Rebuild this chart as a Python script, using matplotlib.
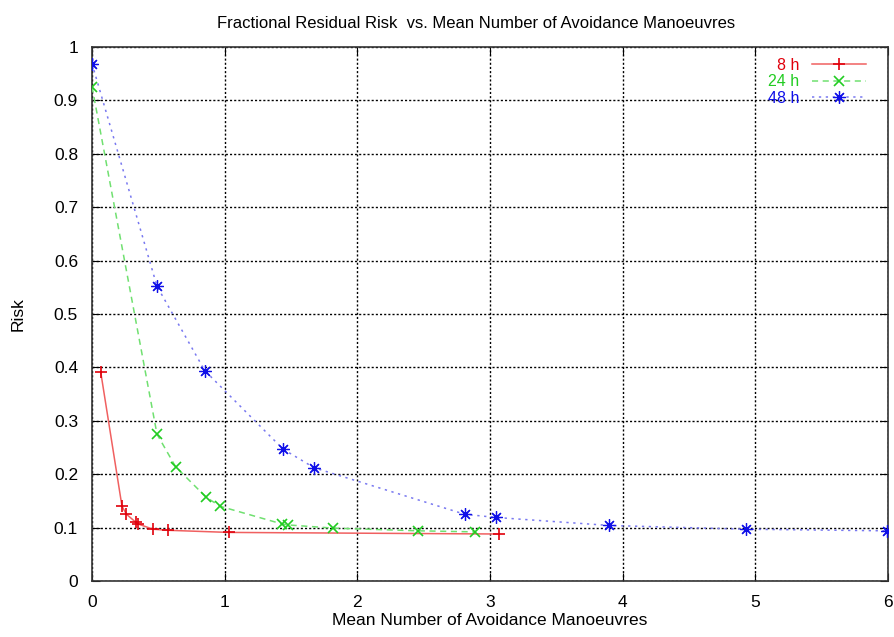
import numpy as np
import matplotlib.pyplot as plt
from matplotlib.lines import Line2D

plt.rcParams['font.family'] = ['Liberation Sans', 'DejaVu Sans']

# Residual risk vs mean number of manoeuvres, for three warning times
x_8h = [0.066, 0.226, 0.26, 0.33, 0.345, 0.46, 0.57, 1.03, 3.07]
risk_8h = [0.391, 0.140, 0.125, 0.110, 0.107, 0.097, 0.095, 0.091, 0.088]

x_24h = [0.0, 0.49, 0.63, 0.86, 0.965, 1.43, 1.48, 1.82, 2.46, 2.89]
risk_24h = [0.926, 0.275, 0.214, 0.157, 0.140, 0.107, 0.105, 0.099, 0.094, 0.092]

x_48h = [0.0, 0.49, 0.85, 1.44, 1.675, 2.81, 3.045, 3.9, 4.93, 5.99]
risk_48h = [0.969, 0.552, 0.394, 0.247, 0.212, 0.125, 0.119, 0.104, 0.097, 0.094]

labels = ['8 h', '24 h', '48 h']
line_colors = ['#f06060', '#70e070', '#7878f0']
mark_colors = ['#e0000b', '#22cc22', '#1010e8']
styles = ['-', (0, (4, 3)), (0, (1.5, 3))]
asterisk = (8, 2, 0)
markers = ['+', 'x', asterisk]
msizes = [9, 7, 9]
medges = [1.2, 1.2, 0.9]

fig = plt.figure(figsize=(8.94, 6.37), dpi=100)
ax = fig.add_axes([0.1029, 0.0879, 0.8904, 0.8383])

handles = []
for xs, ys, lab, lc, mc, ls, mk, ms, mw in zip([x_8h, x_24h, x_48h],
                                                [risk_8h, risk_24h, risk_48h],
                                                labels, line_colors, mark_colors,
                                                styles, markers, msizes, medges):
    ax.plot(xs, ys, color=lc, lw=1.1, ls=ls, marker=mk, ms=ms,
            mec=mc, mfc=mc, mew=mw, zorder=3)
    handles.append(Line2D([], [], color=lc, lw=1.1, ls=ls, marker=mk, ms=ms,
                          mec=mc, mfc=mc, mew=mw, label=lab))

ax.set_xlim(0, 6)
ax.set_ylim(0, 1)
ax.set_xticks(np.arange(0, 7, 1))
ax.set_yticks(np.arange(0, 1.01, 0.1))
ax.set_yticklabels(['0', '0.1', '0.2', '0.3', '0.4', '0.5', '0.6', '0.7',
                    '0.8', '0.9', '1'])
ax.grid(True, color='black', ls=(0, (1.5, 1.5)), lw=1.0)
ax.tick_params(direction='in', top=True, right=True, length=6,
               labelsize=12.5, pad=10)
for s in ax.spines.values():
    s.set_color('#333333')
    s.set_linewidth(1.2)

ax.set_title('Fractional Residual Risk  vs. Mean Number of Avoidance Manoeuvres',
             fontsize=12, pad=14, x=0.483)
ax.set_xlabel('Mean Number of Avoidance Manoeuvres', fontsize=12.5, labelpad=2)
ax.set_ylabel('Risk', fontsize=12.5, labelpad=20)

leg = ax.legend(handles=handles, loc='upper right', frameon=False,
                markerfirst=False, fontsize=11.5, handlelength=3.4,
                borderaxespad=0.2, borderpad=0.3, labelspacing=0.1,
                handletextpad=0.8, bbox_to_anchor=(0.983, 0.995))
for t, c in zip(leg.get_texts(), mark_colors):
    t.set_color(c)
    t.set_ha('right')
leg.set_zorder(5)

fig.savefig('out.png', dpi=100)
